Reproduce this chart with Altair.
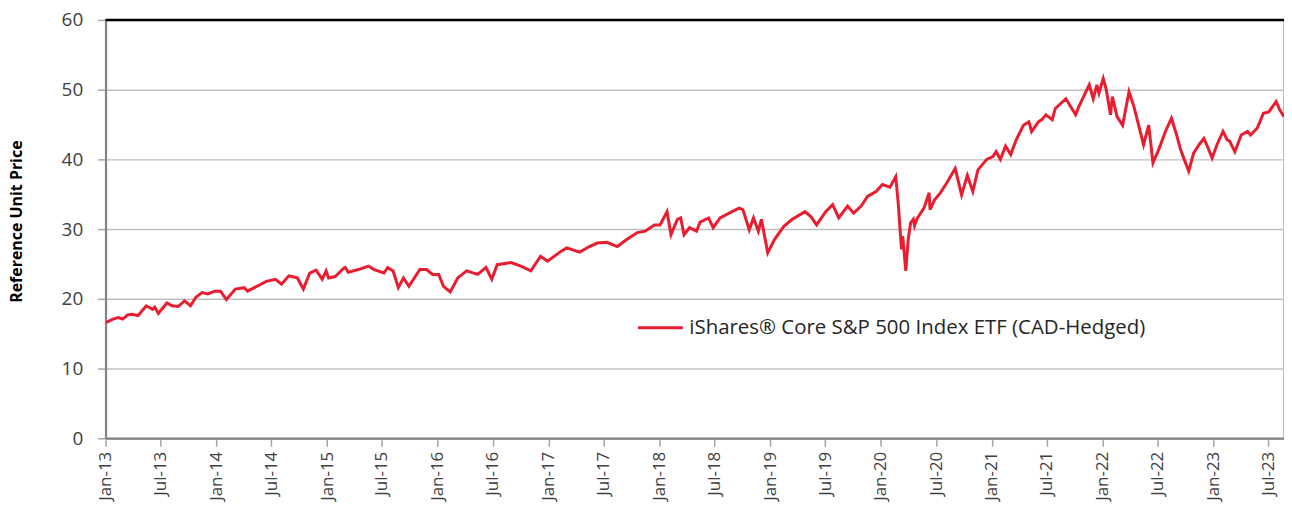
import altair as alt
import pandas as pd

dates = [
    "2013-01-02", "2013-01-25", "2013-02-12", "2013-02-26", "2013-03-15", "2013-03-28",
    "2013-04-18", "2013-05-15", "2013-06-05", "2013-06-12", "2013-06-24", "2013-07-22",
    "2013-08-08", "2013-08-28", "2013-09-18", "2013-10-08", "2013-10-25", "2013-11-15",
    "2013-12-04", "2013-12-27", "2014-01-15", "2014-02-03", "2014-03-05", "2014-04-03",
    "2014-04-14", "2014-05-15", "2014-06-15", "2014-07-15", "2014-08-04", "2014-08-28",
    "2014-09-25", "2014-10-15", "2014-11-05", "2014-11-26", "2014-12-16", "2014-12-29",
    "2015-01-06", "2015-01-28", "2015-02-25", "2015-03-02", "2015-03-12", "2015-04-14",
    "2015-05-18", "2015-06-05", "2015-07-08", "2015-07-20", "2015-08-07", "2015-08-24",
    "2015-09-10", "2015-09-28", "2015-11-03", "2015-11-25", "2015-12-15", "2016-01-04",
    "2016-01-20", "2016-02-11", "2016-03-07", "2016-04-05", "2016-05-12", "2016-06-08",
    "2016-06-27", "2016-07-15", "2016-08-30", "2016-10-01", "2016-11-03", "2016-12-05",
    "2016-12-28", "2017-02-10", "2017-03-01", "2017-04-13", "2017-05-15", "2017-06-10",
    "2017-07-12", "2017-08-15", "2017-09-15", "2017-10-20", "2017-11-15", "2017-12-15",
    "2018-01-03", "2018-01-26", "2018-02-08", "2018-03-01", "2018-03-12", "2018-03-23",
    "2018-04-10", "2018-05-03", "2018-05-15", "2018-06-12", "2018-06-27", "2018-07-20",
    "2018-08-28", "2018-09-21", "2018-10-03", "2018-10-24", "2018-11-07", "2018-11-23",
    "2018-12-03", "2018-12-24", "2019-01-15", "2019-02-15", "2019-03-15", "2019-04-26",
    "2019-05-15", "2019-06-03", "2019-07-03", "2019-07-26", "2019-08-15", "2019-09-13",
    "2019-10-03", "2019-10-28", "2019-11-18", "2019-12-16", "2020-01-06", "2020-01-31",
    "2020-02-19", "2020-02-27", "2020-03-09", "2020-03-13", "2020-03-23", "2020-03-31",
    "2020-04-08", "2020-04-17", "2020-04-21", "2020-04-29", "2020-05-22", "2020-06-08",
    "2020-06-11", "2020-06-26", "2020-07-15", "2020-08-05", "2020-09-02", "2020-09-23",
    "2020-10-12", "2020-10-30", "2020-11-16", "2020-12-15", "2021-01-04", "2021-01-15",
    "2021-01-29", "2021-02-15", "2021-03-04", "2021-03-22", "2021-04-15", "2021-05-03",
    "2021-05-12", "2021-06-04", "2021-06-15", "2021-06-28", "2021-07-19", "2021-07-29",
    "2021-09-02", "2021-10-04", "2021-10-15", "2021-11-18", "2021-12-01", "2021-12-13",
    "2021-12-20", "2022-01-03", "2022-01-13", "2022-01-27", "2022-02-02", "2022-02-18",
    "2022-03-08", "2022-03-29", "2022-04-14", "2022-05-16", "2022-06-02", "2022-06-16",
    "2022-07-05", "2022-07-27", "2022-08-16", "2022-09-02", "2022-09-15", "2022-09-27",
    "2022-10-12", "2022-10-28", "2022-11-15", "2022-12-01", "2022-12-15", "2022-12-28",
    "2023-01-13", "2023-02-02", "2023-02-16", "2023-02-24", "2023-03-13", "2023-04-03",
    "2023-04-24", "2023-05-04", "2023-05-26", "2023-06-15", "2023-07-03", "2023-07-27",
    "2023-08-08", "2023-08-22",
]

prices = [
    16.6, 17.1, 17.3, 17.1, 17.7, 17.8,
    17.6, 19.0, 18.5, 18.8, 17.9, 19.4,
    19.0, 18.9, 19.7, 19.0, 20.2, 20.9,
    20.7, 21.1, 21.1, 19.9, 21.4, 21.6,
    21.1, 21.8, 22.5, 22.8, 22.1, 23.3,
    23.0, 21.4, 23.7, 24.1, 22.8, 24.0,
    23.0, 23.2, 24.4, 24.5, 23.8, 24.2,
    24.7, 24.2, 23.7, 24.5, 24.0, 21.6,
    23.0, 21.8, 24.2, 24.2, 23.5, 23.5,
    21.8, 21.0, 23.0, 24.0, 23.5, 24.5,
    22.8, 24.9, 25.2, 24.7, 24.0, 26.1,
    25.4, 26.8, 27.3, 26.7, 27.5, 28.0,
    28.1, 27.5, 28.5, 29.5, 29.7, 30.6,
    30.6, 32.5, 29.2, 31.4, 31.6, 29.2,
    30.2, 29.7, 31.0, 31.6, 30.2, 31.6,
    32.5, 33.0, 32.8, 29.9, 31.6, 29.7,
    31.4, 26.6, 28.5, 30.4, 31.4, 32.5,
    31.8, 30.6, 32.5, 33.5, 31.6, 33.3,
    32.3, 33.3, 34.7, 35.4, 36.4, 36.0,
    37.5, 33.8, 27.1, 29.0, 24.0, 28.5,
    30.9, 31.4, 30.5, 31.5, 33.0, 35.2,
    32.8, 34.2, 35.2, 36.6, 38.7, 34.9,
    37.7, 35.4, 38.5, 40.0, 40.4, 41.1,
    40.0, 41.9, 40.7, 42.8, 44.9, 45.4,
    44.0, 45.4, 45.7, 46.4, 45.7, 47.3,
    48.7, 46.4, 47.6, 50.7, 48.7, 50.7,
    49.5, 51.6, 50.0, 46.4, 49.0, 46.1,
    44.9, 49.7, 47.6, 42.1, 44.9, 39.5,
    41.4, 44.0, 45.9, 43.5, 41.4, 40.0,
    38.3, 40.9, 42.1, 43.0, 41.6, 40.2,
    42.1, 44.0, 42.8, 42.6, 41.1, 43.5,
    44.0, 43.5, 44.5, 46.6, 46.8, 48.3,
    47.1, 46.1,
]

series_name = "iShares\u00ae Core S&P 500 Index ETF (CAD-Hedged)"
tick_years = list(range(2013, 2024))
y_ticks = [0, 10, 20, 30, 40, 50, 60]

df = pd.DataFrame({"date": dates, "price": prices, "series": series_name})
top_df = pd.DataFrame({"y": [60]})

FONT = "Open Sans"
RED = "#E91D2F"

tick_values = []
for yr in tick_years:
    tick_values.append(alt.DateTime(year=yr, month=1, date=1, utc=True))
    tick_values.append(alt.DateTime(year=yr, month=7, date=1, utc=True))

x_enc = alt.X(
    "date:T",
    scale=alt.Scale(
        type="utc",
        domain=[alt.DateTime(year=2013, month=1, date=1, utc=True),
                alt.DateTime(year=2023, month=8, date=22, utc=True)],
        nice=False,
    ),
    axis=alt.Axis(
        values=tick_values,
        format="%b-%y",
        labelAngle=270,
        labelFontSize=17,
        labelFont=FONT,
        labelColor="#404040",
        labelPadding=5,
        tickSize=8,
        tickColor="#A6A6A6",
        tickWidth=1.5,
        domainColor="#808080",
        domainWidth=2,
        grid=False,
        title=None,
        labelOverlap=False,
    ),
)

y_enc = alt.Y(
    "price:Q",
    scale=alt.Scale(domain=[0, 60], nice=False, zero=True),
    axis=alt.Axis(
        values=y_ticks,
        title="Reference Unit Price",
        titleFont=FONT,
        titleFontSize=16,
        titleFontWeight="bold",
        titleColor="#000000",
        titleAngle=270,
        titleX=-89,
        titleY=202,
        titleAlign="center",
        titleBaseline="middle",
        labelFontSize=19,
        labelFont=FONT,
        labelColor="#404040",
        labelPadding=15,
        tickSize=8,
        tickColor="#A6A6A6",
        tickWidth=1.5,
        domainColor="#808080",
        domainWidth=2,
        grid=True,
        gridColor="#BFBFBF",
        gridWidth=1.5,
    ),
)

line = alt.Chart(df).mark_line(strokeWidth=3, interpolate="linear").encode(
    x=x_enc,
    y=y_enc,
    color=alt.Color(
        "series:N",
        scale=alt.Scale(range=[RED]),
        legend=alt.Legend(
            title=None,
            orient="none",
            legendX=533,
            legendY=285,
            symbolType="stroke",
            symbolSize=2025,
            symbolStrokeWidth=3,
            labelFont=FONT,
            labelFontSize=20.5,
            labelColor="#262626",
            labelOffset=5,
            labelLimit=0,
        ),
    ),
)

top_rule = alt.Chart(top_df).mark_rule(color="#000000", strokeWidth=2.5).encode(
    y=alt.Y("y:Q", scale=alt.Scale(domain=[0, 60], nice=False))
)

chart = (
    alt.layer(line, top_rule)
    .properties(
        width=1183,
        height=420,
        padding={"left": 98, "top": 11, "right": 0, "bottom": 65},
        autosize=alt.AutoSizeParams(type="none"),
        background="white",
    )
    .configure_view(stroke="#A6A6A6", strokeWidth=1.5)
)

chart.save("out.html", embed_options={"renderer": "svg", "actions": False})
